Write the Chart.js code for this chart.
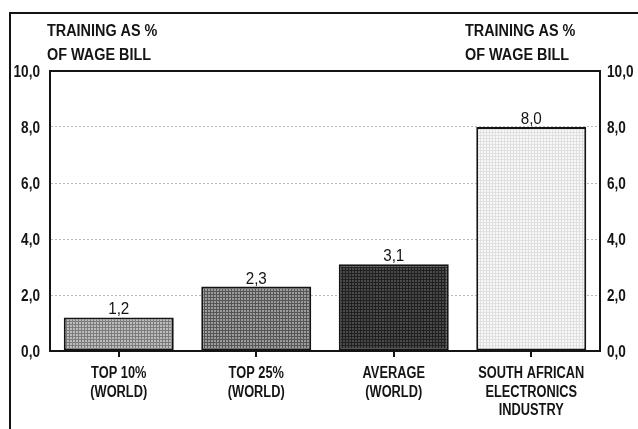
<!DOCTYPE html>
<html>
<head>
<meta charset="utf-8">
<script src="https://cdn.jsdelivr.net/npm/chart.js@4/dist/chart.umd.min.js"></script>
<style>
  html, body { margin: 0; padding: 0; background: #fff; }
  #wrap { width: 638px; height: 429px; position: relative; }
</style>
</head>
<body>
<div id="wrap"><canvas id="c" width="638" height="429"></canvas></div>
<script>
// Training spend as a share of the wage bill
const categories = [
  ['TOP 10%', '(WORLD)'],
  ['TOP 25%', '(WORLD)'],
  ['AVERAGE', '(WORLD)'],
  ['SOUTH AFRICAN', 'ELECTRONICS', 'INDUSTRY']
];
const trainingShare = [1.2, 2.3, 3.1, 8.0];
const axisTitleLines = ['TRAINING AS %', 'OF WAGE BILL'];
const axisMin = 0;
const axisMax = 10;
const axisStep = 2;

const SANS = '"Liberation Sans", Arial, sans-serif';
const INK = '#141414';
const fmt = v => Number(v).toFixed(1).replace('.', ',');

// condensed lettering: draw with a horizontal squeeze around the anchor
function squeezedText(ctx, text, x, y, align, font, sx) {
  ctx.save();
  ctx.font = font;
  ctx.textAlign = align;
  ctx.textBaseline = 'alphabetic';
  ctx.translate(x, y);
  ctx.scale(sx, 1);
  ctx.fillText(text, 0, 0);
  ctx.restore();
}

// screened fills: a fine grid of darker dots over a base tone
function screen(base, dot) {
  const t = document.createElement('canvas');
  t.width = 3; t.height = 3;
  const g = t.getContext('2d');
  g.fillStyle = base; g.fillRect(0, 0, 3, 3);
  g.fillStyle = dot;
  g.fillRect(0, 0, 3, 1);
  g.fillRect(0, 0, 1, 3);
  return g.createPattern(t, 'repeat');
}
const fills = [
  screen('#bdbdbd', '#7c7c7c'),
  screen('#9c9c9c', '#555555'),
  screen('#4a4a4a', '#202020'),
  screen('#f8f8f8', '#e0e0e0')
];

const decorations = {
  id: 'decorations',
  afterDraw(chart) {
    const { ctx, chartArea: a } = chart;
    const xs = chart.scales.x, ys = chart.scales.y;
    ctx.save();
    ctx.fillStyle = INK;
    ctx.strokeStyle = INK;
    // outer frame (left and top edges)
    ctx.lineWidth = 2;
    ctx.beginPath();
    ctx.moveTo(10, 429); ctx.lineTo(10, 13); ctx.lineTo(638, 13);
    ctx.stroke();
    // plot box
    ctx.strokeRect(a.left, a.top, a.right - a.left, a.bottom - a.top);

    // axis titles, left and right
    const titleFont = 'bold 16px ' + SANS;
    axisTitleLines.forEach((s, i) => {
      squeezedText(ctx, s, 47, 36 + i * 24, 'left', titleFont, 0.9);
      squeezedText(ctx, s, 465, 36 + i * 24, 'left', titleFont, 0.9);
    });

    // value tick labels on both sides
    const tickFont = 'bold 16px ' + SANS;
    ys.ticks.forEach(t => {
      const y = ys.getPixelForValue(t.value) + 6;
      squeezedText(ctx, fmt(t.value), 40, y, 'right', tickFont, 0.85);
      squeezedText(ctx, fmt(t.value), 607, y, 'left', tickFont, 0.85);
    });

    // category labels
    const catFont = 'bold 16px ' + SANS;
    categories.forEach((lines, i) => {
      const cx = xs.getPixelForValue(i);
      lines.forEach((s, j) => {
        squeezedText(ctx, s, cx, 378 + j * 18.7, 'center', catFont, 0.8);
      });
    });

    // value labels above bars
    const meta = chart.getDatasetMeta(0);
    meta.data.forEach((bar, i) => {
      squeezedText(ctx, fmt(trainingShare[i]), bar.x, bar.y - 3, 'center', '16px ' + SANS, 0.95);
    });
    ctx.restore();
  }
};

new Chart(document.getElementById('c'), {
  type: 'bar',
  data: {
    labels: categories,
    datasets: [{
      data: trainingShare,
      backgroundColor: fills,
      borderColor: INK,
      borderWidth: 2,
      borderSkipped: false,
      barPercentage: 0.8,
      categoryPercentage: 1.0
    }]
  },
  options: {
    responsive: false,
    animation: false,
    devicePixelRatio: 1,
    layout: { padding: { top: 71, left: 0, right: 0, bottom: 0 } },
    plugins: { legend: { display: false }, tooltip: { enabled: false } },
    scales: {
      x: {
        grid: { display: true, drawOnChartArea: false, offset: false, tickLength: 6, color: INK, lineWidth: 2 },
        border: { display: true, color: INK, width: 2 },
        ticks: { display: false, autoSkip: false },
        afterFit(s) { s.height = 78; }
      },
      y: {
        position: 'left',
        min: axisMin, max: axisMax,
        grid: { color: '#b8b8b8', lineWidth: 1, drawTicks: false },
        border: { display: true, color: INK, width: 2, dash: [2, 2] },
        ticks: { stepSize: axisStep, display: false },
        afterFit(s) { s.width = 50; }
      },
      y2: {
        position: 'right',
        min: axisMin, max: axisMax,
        grid: { display: false, drawTicks: false },
        border: { display: true, color: INK, width: 2 },
        ticks: { stepSize: axisStep, display: false },
        afterFit(s) { s.width = 38; }
      }
    }
  },
  plugins: [decorations]
});
</script>
</body>
</html>
